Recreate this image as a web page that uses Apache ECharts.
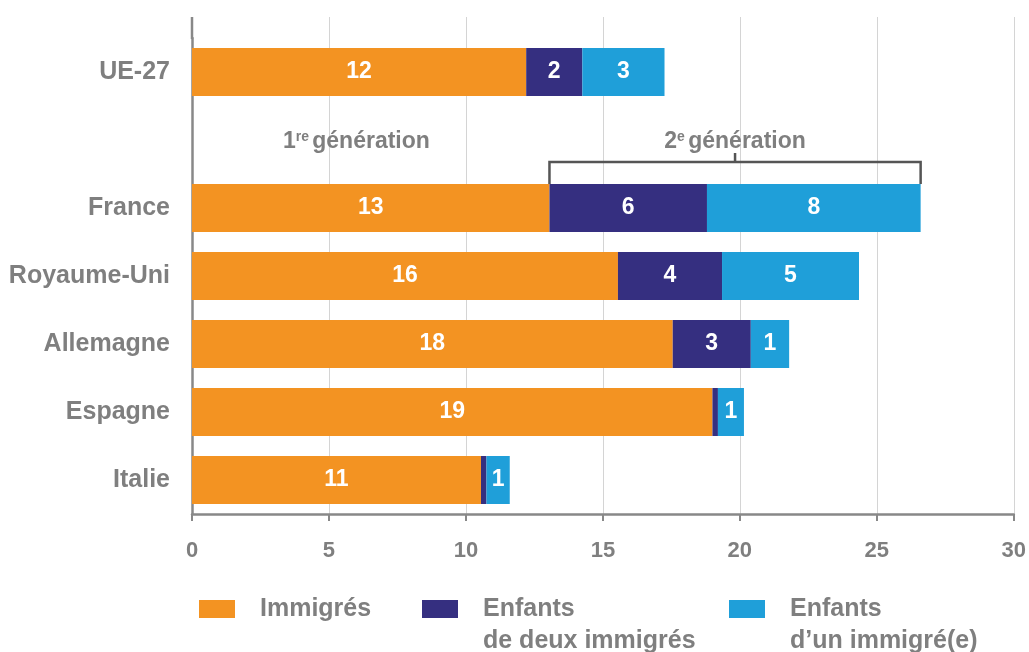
<!DOCTYPE html>
<html>
<head>
<meta charset="utf-8">
<script src="https://cdn.jsdelivr.net/npm/echarts@6/dist/echarts.min.js"></script>
<style>
  html, body { margin: 0; padding: 0; background: #fff; }
  #chart { width: 1029px; height: 652px; }
</style>
</head>
<body>
<div id="chart"></div>
<script>
// pays, de haut en bas (la ligne vide sert aux titres de génération)
var pays = ['UE-27', '', 'France', 'Royaume-Uni', 'Allemagne', 'Espagne', 'Italie']
// parts en %
var immigres = [12.2, null, 13.05, 15.55, 17.55, 19.0, 10.55]
var deuxParents = [2.05, null, 5.75, 3.8, 2.85, 0.2, 0.2]
var unParent = [3.0, null, 7.8, 5.0, 1.4, 0.95, 0.85]
var seriesNames = ['Immigrés', 'Enfants de deux immigrés', 'Enfants d’un immigré(e)']
// la ligne vide en tête place « Enfants » à hauteur du carré
var legendLabels = ['Immigrés', ' \nEnfants\nde deux immigrés', ' \nEnfants\nd’un immigré(e)']
var colors = ['#f39322', '#352f80', '#1f9fd9']

var grey = '#7f7f7f'
var font = 'Liberation Sans, Arial, sans-serif'
var gridTop = 38
var axisTop = 17

var chart = echarts.init(document.getElementById('chart'))

function barLabel (p) {
  if (p.value == null || p.value < 0.5) return ''
  return Math.round(p.value)
}

function makeSeries (name, data, i) {
  return {
    name: name,
    type: 'bar',
    stack: 'total',
    barWidth: 48,
    data: data,
    itemStyle: { color: colors[i] },
    label: {
      show: true,
      position: 'inside',
      formatter: barLabel,
      color: '#fff',
      fontSize: 23,
      fontWeight: 'bold',
      fontFamily: font
    }
  }
}

function makeLegend (i, left, top) {
  return {
    data: [seriesNames[i]],
    left: left,
    top: top,
    padding: 0,
    icon: 'rect',
    itemWidth: 36,
    itemHeight: 18,
    selectedMode: false,
    formatter: function () { return legendLabels[i] },
    textStyle: {
      color: grey,
      fontSize: 25,
      fontWeight: 'bold',
      fontFamily: font,
      lineHeight: 32,
      padding: [0, 0, 0, 20]
    }
  }
}

var option = {
  animation: false,
  grid: { left: 192, right: 14, top: gridTop, bottom: 138 },
  xAxis: {
    type: 'value',
    min: 0,
    max: 30,
    interval: 5,
    axisLine: { show: true, lineStyle: { color: '#888', width: 2.5 } },
    axisTick: { show: true, length: 7, lineStyle: { color: '#888', width: 2 } },
    splitLine: { show: true, lineStyle: { color: '#d4d4d4', width: 1 } },
    axisLabel: {
      margin: 26,
      color: grey,
      fontSize: 22,
      fontWeight: 'bold',
      fontFamily: font
    }
  },
  yAxis: {
    type: 'category',
    inverse: true,
    data: pays,
    axisLine: { show: true, lineStyle: { color: '#888', width: 2.5 } },
    axisTick: { show: false },
    axisLabel: {
      margin: 22,
      color: grey,
      fontSize: 25,
      fontWeight: 'bold',
      fontFamily: font
    }
  },
  legend: [
    makeLegend(0, 199, 593),
    makeLegend(1, 422, 561),
    makeLegend(2, 729, 561)
  ],
  series: [
    makeSeries(seriesNames[0], immigres, 0),
    makeSeries(seriesNames[1], deuxParents, 1),
    makeSeries(seriesNames[2], unParent, 2)
  ]
}

chart.setOption(option)

function genTitle (num, sup) {
  return {
    text: '{n|' + num + '}{s|' + sup + '} {n|génération}',
    align: 'center',
    verticalAlign: 'middle',
    fill: grey,
    fontWeight: 'bold',
    fontFamily: font,
    rich: {
      n: { fontSize: 23, fontWeight: 'bold', fill: grey, fontFamily: font },
      s: { fontSize: 14, fontWeight: 'bold', fill: grey, verticalAlign: 'top', padding: [0, 0, 9, 0], fontFamily: font }
    }
  }
}

// annotations : prolongement des axes, titres des générations, accolade
function annotate () {
  var px = function (x, row) { return chart.convertToPixel({ gridIndex: 0 }, [x, row]) }
  var g = []
  var x0 = px(0, 0)[0]
  g.push({ type: 'line', shape: { x1: x0, y1: axisTop, x2: x0, y2: gridTop + 1 }, style: { stroke: '#888', lineWidth: 2.5 }, z: 5 })
  for (var v = 5; v <= 30; v += 5) {
    var xv = Math.round(px(v, 0)[0]) + 0.5
    g.push({ type: 'line', shape: { x1: xv, y1: axisTop, x2: xv, y2: gridTop }, style: { stroke: '#d4d4d4', lineWidth: 1 }, z: 0 })
  }
  var rowTitle = px(0, 1)[1] + 2
  var fr = 2
  var start = immigres[fr]
  var end = immigres[fr] + deuxParents[fr] + unParent[fr]
  var barTop = px(0, fr)[1] - 24
  var yb = barTop - 22
  var xs = px(start, fr)[0]
  var xe = px(end, fr)[0]
  var xm = (xs + xe) / 2
  g.push({ type: 'text', x: px(6, 1)[0], y: rowTitle, style: genTitle('1', 're') })
  g.push({ type: 'text', x: xm, y: rowTitle, style: genTitle('2', 'e') })
  g.push({
    type: 'polyline',
    shape: { points: [[xs, barTop], [xs, yb], [xe, yb], [xe, barTop]] },
    style: { stroke: '#555', lineWidth: 2.5, fill: null }
  })
  g.push({ type: 'line', shape: { x1: xm, y1: yb, x2: xm, y2: yb - 9 }, style: { stroke: '#555', lineWidth: 2.5 } })
  chart.setOption({ graphic: g })
}
annotate()
</script>
</body>
</html>
